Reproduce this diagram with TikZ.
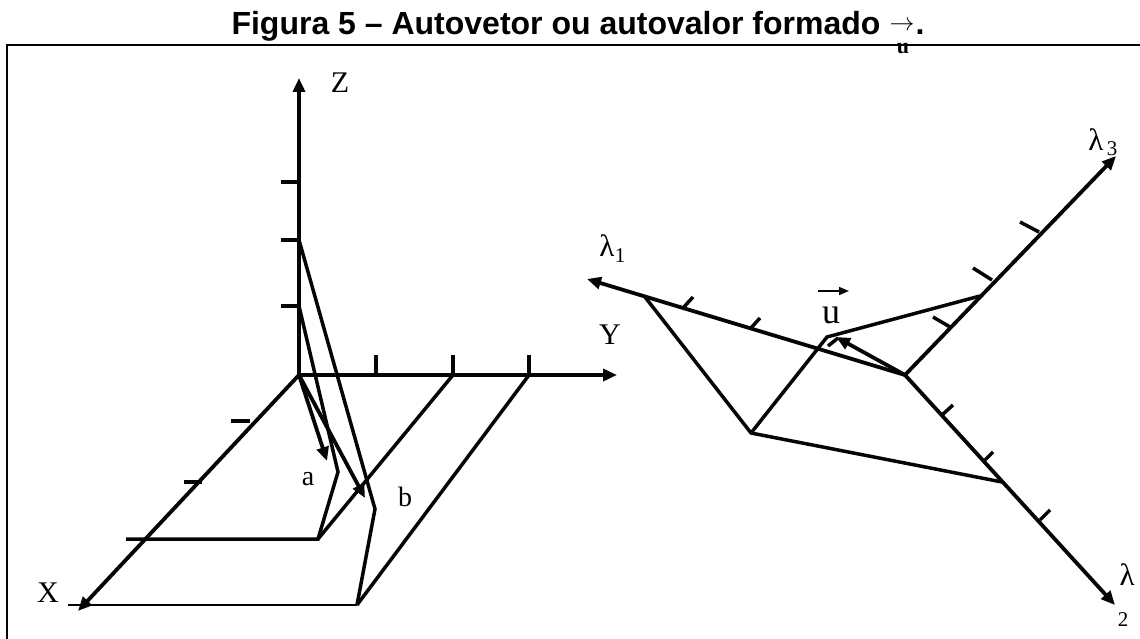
\documentclass[tikz,border=0pt]{standalone}
\usepackage{fontspec}
\setmainfont{Liberation Serif}
\newfontfamily\titlefont{Liberation Sans}
\usetikzlibrary{arrows.meta}
\definecolor{LineBlack}{HTML}{050505}
\tikzset{
  axisline/.style={draw=LineBlack, line width=3.8pt, -{Triangle[length=14pt,width=12pt]}},
  planeline/.style={draw=LineBlack, line width=3.5pt, line join=miter},
  thinline/.style={draw=LineBlack, line width=2pt},
  tickline/.style={draw=LineBlack, line width=3.5pt},
  framelabel/.style={inner sep=0pt, font=\fontsize{30}{30}\selectfont},
  letterlabel/.style={inner sep=0pt, font=\fontsize{28}{28}\selectfont},
  lambdalabel/.style={inner sep=0pt, font=\fontsize{31}{31}\selectfont},
  smalllabel/.style={inner sep=0pt, font=\fontsize{21}{21}\selectfont},
  titlelabel/.style={inner sep=0pt, anchor=base, font=\titlefont\bfseries\fontsize{32}{32}\selectfont}
}

\begin{document}
\begin{tikzpicture}[x=1pt, y=-1pt]
  \useasboundingbox (0,0) rectangle (1140,639);

  % --- Title and frame ---
  \node[titlelabel] (title) at (556,35) {Figura 5 – Autovetor ou autovalor formado};
  \node[inner sep=0pt, font=\fontsize{25}{25}\selectfont] (titlearrow) at (902,26) {$\rightarrow$};
  \node[titlelabel] (titledot) at (920,35) {.};
  \node[inner sep=0pt, anchor=base, font=\bfseries\fontsize{22}{22}\selectfont] (titleu) at (903,54) {u};
  \coordinate (frameBL) at (7,639);
  \coordinate (frameTL) at (7,45);
  \coordinate (frameTR) at (1140,45);
  \draw[thinline] (frameBL) -- (frameTL) -- (frameTR);

  % --- Left axes ---
  \coordinate (O) at (299,375);
  \coordinate (zEnd) at (299,78);
  \coordinate (yEnd) at (617,375);
  \coordinate (xEnd) at (78,611);
  \draw[axisline] (O) -- (zEnd);
  \draw[axisline] (O) -- (yEnd);
  \draw[axisline] (O) -- (xEnd);

  % Ticks on Z, Y and X
  \foreach \i/\ypos in {1/182, 2/240, 3/306} {
    \coordinate (zA\i) at (281,\ypos);
    \coordinate (zB\i) at (299,\ypos);
    \draw[tickline] (zA\i) -- (zB\i);
  }
  \foreach \i/\xpos in {1/376, 2/453, 3/529} {
    \coordinate (yA\i) at (\xpos,355);
    \coordinate (yB\i) at (\xpos,375);
    \draw[tickline] (yA\i) -- (yB\i);
  }
  \coordinate (xA1) at (231,421);
  \coordinate (xB1) at (250,421);
  \coordinate (xA2) at (184,482);
  \coordinate (xB2) at (202,482);
  \draw[tickline] (xA1) -- (xB1);
  \draw[tickline] (xA2) -- (xB2);

  % Projections
  \coordinate (zOne) at (299,306);
  \coordinate (zTwo) at (299,240);
  \coordinate (kinkA) at (338,472);
  \coordinate (kinkB) at (375,509);
  \coordinate (footA) at (318,539);
  \coordinate (footB) at (357,605);
  \coordinate (xOne) at (126,539);
  \coordinate (xTwo) at (68,605);
  \coordinate (yTwo) at (453,375);
  \coordinate (yThree) at (529,375);
  \draw[planeline] (zOne) -- (kinkA) -- (footA) -- (xOne);
  \draw[planeline] (footA) -- (yTwo);
  \draw[planeline] (zTwo) -- (kinkB) -- (footB);
  \draw[planeline] (footB) -- (yThree);
  \draw[thinline] (xTwo) -- (footB);

  % Vectors a and b
  \coordinate (tipA) at (327,461);
  \coordinate (tipB) at (365,498);
  \draw[axisline] (O) -- (tipA);
  \draw[axisline] (O) -- (tipB);

  % Left labels
  \node[framelabel] (labelZ) at (340,83) {Z};
  \node[framelabel] (labelY) at (610,335) {Y};
  \node[framelabel] (labelX) at (48,593) {X};
  \node[letterlabel] (labelA) at (308,479) {a};
  \node[letterlabel] (labelB) at (405,497) {b};

  % --- Right axes ---
  \coordinate (C) at (905,375);
  \coordinate (oneEnd) at (587,279);
  \coordinate (twoEnd) at (1115,605);
  \coordinate (threeEnd) at (1116,156);
  \draw[axisline] (C) -- (oneEnd);
  \draw[axisline] (C) -- (twoEnd);
  \draw[axisline] (C) -- (threeEnd);

  % Ticks on the three axes
  \foreach \i/\ax/\ay/\bx/\by in {1/693/297/683/308, 2/760/318/750/329,
      3/933/317/950/327, 4/973/268/992/280, 5/1020/222/1039/232,
      6/942/415/953/405, 7/985/460/993/452, 8/1040/520/1050/510} {
    \coordinate (tA\i) at (\ax,\ay);
    \coordinate (tB\i) at (\bx,\by);
    \draw[tickline] (tA\i) -- (tB\i);
  }

  % Box and vector u
  \coordinate (oneFoot) at (645,297);
  \coordinate (base) at (751,433);
  \coordinate (twoFoot) at (1002,482);
  \coordinate (top) at (827,337);
  \coordinate (threeFoot) at (980,296);
  \coordinate (tipU) at (836,337);
  \coordinate (markA) at (828,346);
  \coordinate (markB) at (838,338);
  \draw[planeline] (oneFoot) -- (base) -- (twoFoot);
  \draw[planeline] (base) -- (top) -- (threeFoot);
  \draw[tickline] (markA) -- (markB);
  \draw[axisline] (C) -- (tipU);

  % Right labels
  \node[inner sep=0pt, font=\fontsize{36}{36}\selectfont] (labelU) at (831,315) {u};
  \coordinate (uArrowA) at (818,291);
  \coordinate (uArrowB) at (849,291);
  \draw[draw=LineBlack, line width=1.6pt, -{Triangle[length=10pt,width=8pt]}] (uArrowA) -- (uArrowB);
  \node[lambdalabel] (labelOne) at (607,246) {λ};
  \node[smalllabel] (subOne) at (620,256) {1};
  \node[lambdalabel] (labelThree) at (1096,140) {λ};
  \node[smalllabel] (subThree) at (1112,149) {3};
  \node[lambdalabel] (labelTwo) at (1127,575) {λ};
  \node[smalllabel] (subTwo) at (1123,620) {2};
\end{tikzpicture}
\end{document}
